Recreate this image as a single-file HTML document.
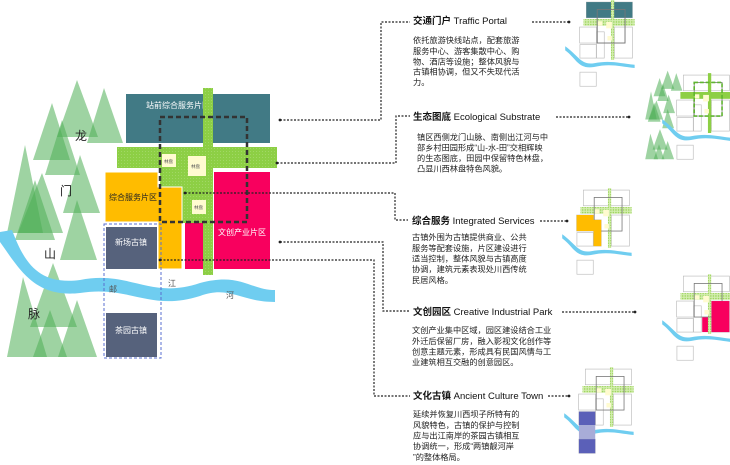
<!DOCTYPE html>
<html><head><meta charset="utf-8"><style>
html,body{margin:0;padding:0;background:#fff;}
svg{display:block;font-family:"Liberation Sans","Noto Sans CJK SC",sans-serif;}
.h{font-size:9.5px;fill:#111;}
.b{font-size:8.2px;fill:#222;}
.dl{stroke:#222;stroke-width:1.2;stroke-dasharray:2 1.5;fill:none;}
</style></head><body>
<svg width="730" height="465" viewBox="0 0 730 465" xmlns="http://www.w3.org/2000/svg">
<defs>
<pattern id="dots" width="3" height="3" patternUnits="userSpaceOnUse"><rect width="3" height="3" fill="#8dcf45"/><circle cx="1.5" cy="1.5" r="0.5" fill="#a8dc70"/></pattern>
<pattern id="chk" width="8" height="8" patternUnits="userSpaceOnUse"><rect width="8" height="8" fill="#d4eeb0"/><circle cx="4" cy="4" r="2.5" fill="#9bd35a"/></pattern>
<g id="base">
 <path d="M60,232 C100,260 110,292 150,285 C200,275 230,285 277,290 L277,300 C230,295 200,285 150,297 C100,305 95,270 60,245Z" fill="#6fcdf0"/>
 <g fill="#fff" stroke="#bbb" stroke-width="2">
 <rect x="126" y="94" width="144" height="49"/>
 <rect x="105" y="172" width="53" height="50"/>
 <rect x="106" y="227" width="51" height="42"/>
 <rect x="106" y="313" width="51" height="44"/>
 <rect x="214" y="172" width="56" height="97"/>
 <rect x="158" y="187" width="24" height="82"/>
 </g>
 <rect x="117" y="147" width="160" height="21" fill="url(#chk)"/>
 <rect x="203" y="88" width="10" height="187" fill="url(#chk)"/>
 <rect x="160" y="117" width="87" height="105" fill="none" stroke="#777" stroke-width="2.5"/>
 <rect x="162" y="154" width="14" height="13" fill="#fffbd0"/><rect x="188" y="156" width="18" height="20" fill="#fffbd0"/><rect x="192" y="200" width="14" height="14" fill="#fffbd0"/>
</g>
<g id="trees" fill="#4fae55" fill-opacity="0.55">
 <polygon points="77,80 57,137 98,137"/><polygon points="104,88 87,143 123,143"/><polygon points="52,103 33,160 70,160"/>
 <polygon points="25,145 7,233 43,233"/><polygon points="80,155 63,213 100,213"/><polygon points="42,173 18,233 63,233"/>
 <polygon points="77,200 60,260 97,260"/><polygon points="35,180 15,240 55,240"/><polygon points="53,263 30,327 77,327"/>
 <polygon points="23,277 7,357 47,357"/><polygon points="77,300 58,357 97,357"/><polygon points="50,310 33,357 67,357"/>
 <polygon points="62,120 45,175 80,175"/>
</g>
</defs>

<!-- main map trees -->
<use href="#trees"/>
<text x="75" y="140" font-size="12" fill="#222">龙</text>
<text x="60" y="195" font-size="12" fill="#222">门</text>
<text x="44" y="258" font-size="12" fill="#222">山</text>
<text x="28" y="318" font-size="12" fill="#222">脉</text>
<!-- river -->
<path d="M0,232 L12,230 C25,265 40,285 80,280 C130,270 150,300 200,283 C240,272 250,290 275,290 L275,302 C240,302 230,285 200,296 C150,312 130,285 80,293 C35,298 20,270 0,242Z" fill="#6fcdf0"/>
<text x="109" y="292" font-size="8" fill="#555">邮</text>
<text x="168" y="286" font-size="8" fill="#555">江</text>
<text x="226" y="298" font-size="8" fill="#555">河</text>

<rect x="126" y="94" width="144" height="49" fill="#417a85"/>
<text x="178" y="108" font-size="8" fill="#fff" text-anchor="middle">站前综合服务片区</text>
<rect x="117" y="147" width="160" height="21" fill="url(#dots)"/>
<rect x="160" y="168" width="53" height="55" fill="url(#dots)"/>
<path d="M105,172 H158 V187 H182 V269 H158 V222 H105Z" fill="#ffbc00" stroke="#fff" stroke-width="1"/>
<text x="109" y="200" font-size="8" fill="#222">综合服务片区</text>
<rect x="214" y="172" width="56" height="97" fill="#f8005e"/>
<rect x="185" y="223" width="18" height="46" fill="#f8005e"/>
<text x="218" y="235" font-size="8" fill="#fff">文创产业片区</text>
<rect x="203" y="88" width="10" height="187" fill="url(#dots)"/>
<rect x="162" y="154" width="14" height="13" fill="#fffbd0"/><text x="164" y="163" font-size="4.5" fill="#555">林盘</text>
<rect x="188" y="156" width="18" height="20" fill="#fffbd0"/><text x="191" y="168" font-size="4.5" fill="#555">林盘</text>
<rect x="192" y="200" width="14" height="14" fill="#fffbd0"/><text x="194" y="209" font-size="4.5" fill="#555">林盘</text>
<rect x="160" y="117" width="87" height="105" fill="none" stroke="#333" stroke-width="2.5" stroke-dasharray="5 3"/>
<rect x="104" y="224" width="57" height="134" fill="none" stroke="#5a6fd0" stroke-width="1" stroke-dasharray="3 2"/>
<rect x="106" y="227" width="51" height="42" fill="#56627c"/>
<text x="131" y="245" font-size="8" fill="#fff" text-anchor="middle">新场古镇</text>
<rect x="106" y="313" width="51" height="44" fill="#56627c"/>
<text x="131" y="333" font-size="8" fill="#fff" text-anchor="middle">茶园古镇</text>

<!-- connectors -->
<circle cx="280" cy="120" r="1.4" fill="#222"/><path class="dl" d="M280,120 H381 V22 H410"/>
<circle cx="277" cy="163" r="1.4" fill="#222"/><path class="dl" d="M277,163 H396 V116 H410"/>
<circle cx="185" cy="193" r="1.4" fill="#222"/><path class="dl" d="M185,193 H395 V220 H408"/>
<circle cx="280" cy="242" r="1.4" fill="#222"/><path class="dl" d="M280,242 H383 V311 H410"/>
<circle cx="160" cy="260" r="1.4" fill="#222"/><path class="dl" d="M160,260 H374 V396 H410"/>

<!-- texts -->
<text class="h" x="413" y="24"><tspan font-weight="bold">交通门户</tspan>  Traffic Portal</text>
<text class="b" x="413" y="43">依托旅游快线站点，配套旅游</text>
<text class="b" x="413" y="54">服务中心、游客集散中心、购</text>
<text class="b" x="413" y="64.5">物、酒店等设施；整体风貌与</text>
<text class="b" x="413" y="74.5">古镇相协调，但又不失现代活</text>
<text class="b" x="413" y="85">力。</text>
<path class="dl" d="M532,22 H568"/><circle cx="569" cy="22" r="1.4" fill="#222"/>

<text class="h" x="413" y="120"><tspan font-weight="bold">生态图底</tspan>  Ecological Substrate</text>
<text class="b" x="417" y="140">镇区西侧龙门山脉、南侧出江河与中</text>
<text class="b" x="417" y="150.5">部乡村田园形成“山-水-田”交相辉映</text>
<text class="b" x="417" y="161">的生态图底，田园中保留特色林盘，</text>
<text class="b" x="417" y="171.5">凸显川西林盘特色风貌。</text>
<path class="dl" d="M556,117 H628"/><circle cx="629" cy="117" r="1.4" fill="#222"/>

<text class="h" x="412" y="224"><tspan font-weight="bold">综合服务</tspan>  Integrated Services</text>
<text class="b" x="412" y="240">古镇外围为古镇提供商业、公共</text>
<text class="b" x="412" y="251">服务等配套设施，片区建设进行</text>
<text class="b" x="412" y="261.5">适当控制，整体风貌与古镇高度</text>
<text class="b" x="412" y="272">协调，建筑元素表现处川西传统</text>
<text class="b" x="412" y="283">民居风格。</text>
<path class="dl" d="M540,221 H566"/><circle cx="567" cy="221" r="1.4" fill="#222"/>

<text class="h" x="413" y="315"><tspan font-weight="bold">文创园区</tspan>  Creative Industrial Park</text>
<text class="b" x="412" y="333">文创产业集中区域，园区建设结合工业</text>
<text class="b" x="412" y="344">外迁后保留厂房，融入影视文化创作等</text>
<text class="b" x="412" y="354.5">创意主题元素，形成具有民国风情与工</text>
<text class="b" x="412" y="365">业建筑相互交融的创意园区。</text>
<path class="dl" d="M562,312 H634"/><circle cx="635" cy="312" r="1.4" fill="#222"/>

<text class="h" x="413" y="399"><tspan font-weight="bold">文化古镇</tspan> Ancient Culture Town</text>
<text class="b" x="413" y="417">延续并恢复川西坝子所特有的</text>
<text class="b" x="413" y="428">风貌特色，古镇的保护与控制</text>
<text class="b" x="413" y="438.5">应与出江南岸的茶园古镇相互</text>
<text class="b" x="413" y="449">协调统一，形成“两镇靓河岸</text>
<text class="b" x="413" y="460">”的整体格局。</text>
<path class="dl" d="M548,396 H568"/><circle cx="569" cy="396" r="1.4" fill="#222"/>

<!-- thumbnails -->
<g transform="translate(546,-28) scale(0.32)">
 <use href="#base"/>
 <rect x="126" y="94" width="144" height="49" fill="#417a85"/>
 <rect x="203" y="88" width="10" height="55" fill="url(#chk)"/>
 <rect x="160" y="117" width="87" height="105" fill="none" stroke="#777" stroke-width="2.5"/>
</g>
<g transform="translate(643,45) scale(0.32)">
 <use href="#trees"/>
 <use href="#base"/>
 <rect x="117" y="147" width="160" height="21" fill="#8dcf45"/>
 <rect x="203" y="88" width="10" height="187" fill="#8dcf45"/>
 <rect x="162" y="154" width="14" height="13" fill="#fffbd0"/><rect x="188" y="156" width="18" height="20" fill="#fffbd0"/><rect x="192" y="200" width="14" height="14" fill="#fffbd0"/>
 <rect x="160" y="117" width="87" height="105" fill="none" stroke="#5fb530" stroke-width="5" stroke-dasharray="12 6"/>
</g>
<g transform="translate(543,160) scale(0.32)">
 <use href="#base"/>
 <path d="M105,172 H158 V187 H182 V269 H158 V222 H105Z" fill="#ffbc00"/>
</g>
<g transform="translate(643,246) scale(0.32)">
 <use href="#base"/>
 <rect x="214" y="172" width="56" height="97" fill="#f8005e"/>
 <rect x="185" y="223" width="18" height="46" fill="#f8005e"/>
</g>
<g transform="translate(545,339) scale(0.32)">
 <use href="#base"/>
 <rect x="106" y="227" width="51" height="42" fill="#5b60b8"/>
 <rect x="106" y="269" width="51" height="44" fill="#a8acd8"/>
 <rect x="106" y="313" width="51" height="44" fill="#5b60b8"/>
</g>
</svg>
</body></html>
